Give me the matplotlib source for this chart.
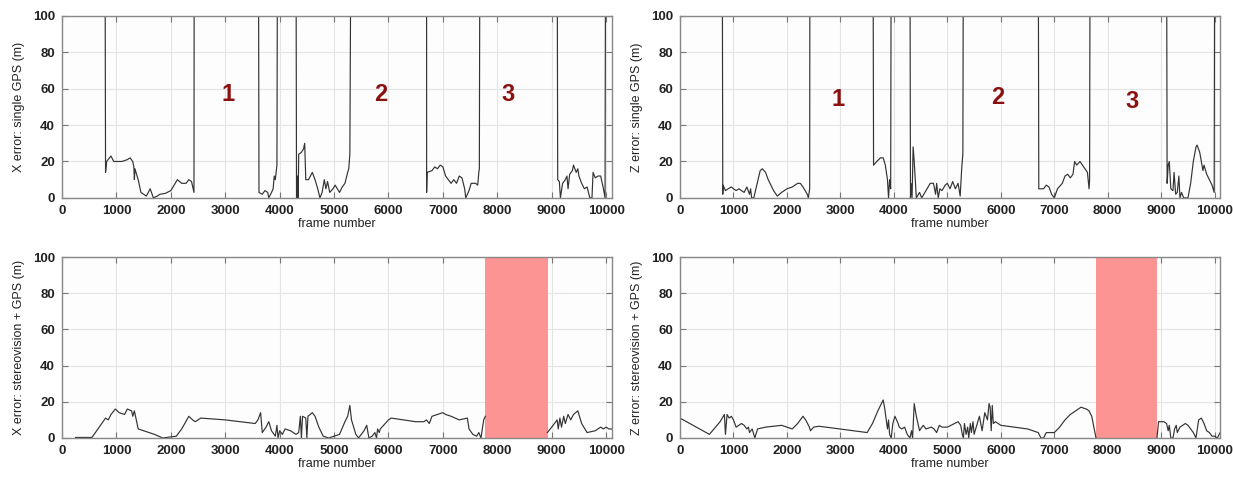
import numpy as np
import matplotlib.pyplot as plt

plt.rcParams['font.family'] = ['Liberation Sans', 'DejaVu Sans']

# top row: single GPS error, NaN = no fix; 150 = off the scale
x_gps_frames = [790, 800, 820, 900, 950, 1100, 1200, 1250, 1300, 1320, 1330, 1340, 1400, 1450,
                1550, 1620, 1680, 1750, 1800, 1900, 2000, 2080, 2120, 2200, 2280, 2330, 2380, 2425, 2430,
                2431,
                3610, 3620, 3680, 3730, 3780, 3800, 3850, 3880, 3900, 3920, 3950, 3960,
                3961,
                4300, 4310, 4330, 4340, 4350, 4400, 4440, 4460, 4480, 4530, 4600, 4650, 4700, 4740,
                4780, 4820, 4850, 4880, 4920, 4980, 5020, 5060, 5100, 5150, 5200, 5250, 5270, 5290, 5310,
                5311,
                6700, 6701, 6710, 6800, 6850, 6900, 6950, 7000, 7050, 7100, 7150, 7200, 7250, 7300,
                7350, 7400, 7420, 7480, 7520, 7600, 7640, 7660, 7670, 7680,
                7681,
                9100, 9110, 9140, 9160, 9200, 9250, 9280, 9300, 9330, 9380, 9400, 9450, 9480, 9500,
                9550, 9600, 9650, 9700, 9740, 9760, 9800, 9850, 9900, 9950, 9980, 9990]
x_gps_err = [150, 14, 20, 23, 20, 20, 21, 22, 20, 17, 10, 16, 10, 3,
             1, 5, 0, 1, 2, 2.5, 4, 8, 10, 8, 8, 10, 9, 3, 150,
             np.nan,
             150, 3, 2, 4, 3, 0, 3, 5, 12, 10, 18, 150,
             np.nan,
             150, 0, 12, 0, 24, 25, 27, 30, 10, 10, 14, 10, 5, 0,
             3, 10, 5, 9, 3, 5, 7, 5, 3, 6, 8, 14, 16, 24, 150,
             np.nan,
             150, 3, 14, 15, 17, 16, 18, 17, 12, 10, 8, 10, 8, 12,
             11, 5, 0, 4, 8, 8, 7, 14, 16, 150,
             np.nan,
             150, 10, 9, 0, 8, 10, 12, 5, 13, 15, 18, 14, 16, 12,
             8, 5, 6, 0, 0, 14, 11, 12, 12, 5, 0, 150]

z_gps_frames = [790, 800, 805, 850, 900, 960, 1000, 1050, 1100, 1150, 1200, 1250, 1300, 1320,
                1340, 1380, 1420, 1460, 1500, 1540, 1600, 1650, 1750, 1820, 1900, 2000, 2100, 2200,
                2250, 2300, 2380, 2400, 2425, 2430,
                2431,
                3610, 3620, 3680, 3750, 3800, 3840, 3880, 3900, 3920, 3940, 3950,
                3951,
                4300, 4310, 4320, 4340, 4360, 4380, 4420, 4480, 4520, 4560, 4600, 4680, 4740, 4780,
                4800, 4830, 4860, 4900, 4960, 5000, 5050, 5100, 5150, 5200, 5240, 5270, 5290, 5300,
                5301,
                6700, 6710, 6800, 6850, 6900, 6950, 7000, 7060, 7150, 7200, 7250, 7300, 7350, 7380,
                7420, 7480, 7550, 7620, 7650, 7660, 7670,
                7671,
                9100, 9110, 9130, 9150, 9180, 9220, 9240, 9270, 9300, 9330, 9350, 9380, 9420, 9500,
                9550, 9600, 9650, 9670, 9720, 9780, 9800, 9850, 9900, 9950, 9990, 10000]
z_gps_err = [150, 2, 7, 4, 5, 6, 5, 4, 5, 4, 3, 6, 2, 5,
             0, 0, 5, 10, 15, 16, 14, 10, 4, 1, 3, 5, 6, 8,
             8, 6, 2, 0, 5, 150,
             np.nan,
             150, 18, 20, 22, 22, 18, 10, 0, 10, 5, 150,
             np.nan,
             150, 0, 8, 0, 28, 20, 0, 3, 0, 2, 4, 8, 8, 2,
             8, 0, 5, 4, 7, 8, 5, 9, 5, 8, 1, 17, 24, 150,
             np.nan,
             150, 5, 5, 7, 6, 2, 0, 5, 8, 12, 13, 11, 13, 20,
             18, 20, 17, 14, 5, 10, 150,
             np.nan,
             150, 8, 18, 20, 5, 4, 14, 2, 3, 12, 0, 3, 0, 0,
             8, 20, 28, 29, 25, 15, 18, 13, 10, 7, 3, 150]

# bottom row: stereovision + GPS error
x_stereo_frames = [250, 550, 800, 850, 900, 980, 1050, 1150, 1200, 1280, 1300, 1330, 1400, 1700,
                   1850, 2100, 2200, 2330, 2400, 2450, 2550, 3000, 3550, 3600, 3650, 3680, 3750,
                   3800, 3850, 3920, 3950, 3970, 4000, 4050, 4100, 4200, 4300, 4350, 4380, 4400,
                   4420, 4480, 4500, 4520, 4600, 4650, 4720, 4800, 4900, 5000, 5100, 5200, 5250,
                   5290, 5320, 5400, 5450, 5550, 5600, 5640, 5700, 5750, 5780, 5800, 5830, 5850,
                   6000, 6050, 6500, 6650, 6700, 6750, 6800, 6900, 7000, 7050, 7150, 7300, 7450,
                   7480, 7550, 7620, 7660, 7700, 7750, 7780,
                   7781,
                   8920, 9000, 9050, 9100, 9120, 9150, 9180, 9220, 9250, 9300, 9350, 9400, 9480,
                   9550, 9650, 9800, 9850, 9900, 9950, 10000, 10050, 10100]
x_stereo_err = [0.3, 0.3, 11, 10, 13, 16, 14, 13, 16, 15, 12, 15, 5, 2,
                0, 1, 5, 12, 10, 9, 11, 10, 8, 10, 14, 3, 6,
                9, 4, 1, 7, 0, 4, 2, 5, 4, 2, 3, 12, 0,
                12, 11, 0, 12, 14, 12, 6, 1, 0, 1, 2, 9, 12,
                18, 10, 2, 0, 4, 7, 0, 1, 3, 0, 5, 3, 5,
                10, 11, 9, 9, 10, 8, 12, 13, 14, 13, 12, 10, 11,
                5, 2, 1, 3, 0, 10, 12,
                np.nan,
                3, 6, 8, 10, 5, 11, 6, 12, 8, 13, 10, 13, 15,
                8, 3, 4, 5, 6, 5, 6, 5, 5]

z_stereo_frames = [0, 550, 750, 830, 850, 880, 920, 960, 1000, 1050, 1150, 1200, 1250, 1280,
                   1300, 1350, 1400, 1450, 1600, 1900, 2100, 2200, 2300, 2350, 2420, 2440, 2500,
                   2600, 3500, 3600, 3700, 3800, 3830, 3880, 3900, 3920, 3950, 3980, 4020, 4080,
                   4100, 4150, 4200, 4250, 4300, 4330, 4350, 4380, 4420, 4480, 4500, 4550, 4600,
                   4700, 4750, 4800, 4850, 4900, 5000, 5200, 5250, 5280, 5300, 5320, 5350, 5380,
                   5400, 5430, 5450, 5480, 5500, 5550, 5600, 5650, 5700, 5750, 5780, 5800, 5820,
                   5840, 5860, 5900, 6000, 6500, 6700, 6750, 6800, 6850, 7000, 7100, 7200, 7300,
                   7400, 7500, 7600, 7650, 7700, 7780,
                   7781,
                   8920, 8950, 9050, 9100, 9130, 9150, 9180, 9220, 9250, 9280, 9300, 9350, 9400,
                   9450, 9500, 9550, 9600, 9650, 9700, 9750, 9800, 9850, 9900, 9950, 10000, 10050,
                   10100]
z_stereo_err = [11, 2, 9, 13, 2, 13, 11, 12, 10, 6, 8, 7, 5, 6,
                3, 5, 0, 5, 6, 7, 5, 8, 12, 10, 6, 4, 6,
                6.5, 3, 8, 15, 21, 16, 5, 10, 2, 0, 8, 12, 8,
                6, 5, 6, 2, 0, 4, 0, 19, 12, 4, 5, 7, 5,
                6, 5, 3, 7, 6, 6, 9, 7, 2, 0, 8, 2, 6,
                0, 8, 3, 9, 2, 7, 12, 4, 14, 10, 19, 17, 4,
                18, 8, 9, 7, 5, 3, 0, 0, 3, 3, 6, 10, 13,
                15, 17, 16, 15, 12, 0,
                np.nan,
                0, 9, 9, 8, 4, 7, 0, 0, 5, 7, 3, 6, 7,
                8, 7, 5, 3, 0, 10, 11, 8, 4, 3, 1, 1, 0,
                3]

blackout = (7780, 8930)  # stereovision-only stretch

panels = [
    (x_gps_frames, x_gps_err, 'X error: single GPS (m)', [(3050, 57, '1'), (5850, 57, '2'), (8200, 57, '3')]),
    (z_gps_frames, z_gps_err, 'Z error: single GPS (m)', [(2950, 54, '1'), (5950, 55, '2'), (8450, 53, '3')]),
    (x_stereo_frames, x_stereo_err, 'X error: stereovision + GPS (m)', None),
    (z_stereo_frames, z_stereo_err, 'Z error: stereovision + GPS (m)', None),
]
boxes = [[0.0503, 0.586, 0.4457, 0.381],
         [0.5515, 0.586, 0.438, 0.381],
         [0.0503, 0.0837, 0.4457, 0.3786],
         [0.5515, 0.0837, 0.438, 0.3786]]

fig = plt.figure(figsize=(12.33, 4.78), dpi=100)
for i, (fr, err, ylab, marks) in enumerate(panels):
    ax = fig.add_axes(boxes[i])
    ax.set_facecolor('#fdfdfd')
    ax.set_axisbelow(True)
    if marks is None:
        ax.axvspan(*blackout, color='#fc9494', lw=0, zorder=1)
    ax.plot(fr, err, color='#333333', lw=0.85, zorder=3)
    if marks:
        for mx, my, t in marks:
            ax.text(mx, my, t, color='#8b1111', fontsize=17, fontweight='bold',
                    ha='center', va='center')
    ax.set_xlim(0, 10100)
    ax.set_ylim(0, 100)
    ax.set_xticks(range(0, 10001, 1000))
    ax.set_yticks(range(0, 101, 20))
    ax.grid(True, color='#e4e4e4', lw=0.8)
    ax.tick_params(direction='in', top=True, right=True, length=4, color='#777777',
                   labelsize=9.5, pad=5)
    for lbl in ax.get_xticklabels() + ax.get_yticklabels():
        lbl.set_fontweight('bold')
        lbl.set_color('#222222')
    for s in ax.spines.values():
        s.set_color('#888888')
        s.set_linewidth(1.0)
        s.set_zorder(4)
    ax.set_xlabel('frame number', fontsize=9, color='#222222', labelpad=1)
    ax.set_ylabel(ylab, fontsize=9, color='#222222', labelpad=6)

fig.savefig('out.png', dpi=100)
